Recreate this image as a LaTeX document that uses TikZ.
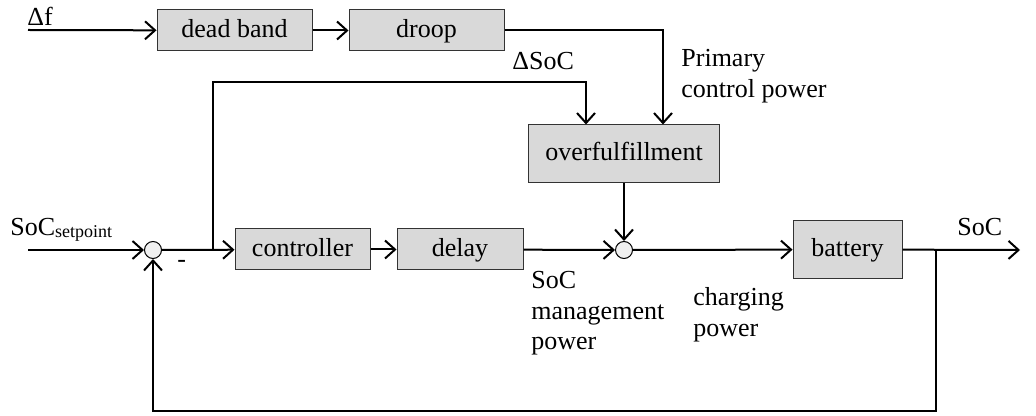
\documentclass[tikz,border=0pt]{standalone}
\usepackage{fontspec}
\setmainfont{Liberation Serif}
\usetikzlibrary{arrows.meta,positioning,calc}
\tikzset{block/.style={draw=black!80, line width=0.5pt, fill=gray!30, minimum height=20.5pt, inner sep=0pt, text height=9.5pt, text depth=2.5pt, font=\fontsize{13}{15.3}\selectfont}}
\tikzset{sumpt/.style={circle, draw, line width=0.5pt, fill=gray!12, minimum size=8.5pt, inner sep=0pt}}
\tikzset{sig/.style={line width=1pt, -{Straight Barb[length=5pt,width=9pt]}}}
\tikzset{lbl/.style={inner sep=0pt, align=left, font=\fontsize{13}{15.3}\selectfont}}

\begin{document}
\begin{tikzpicture}[x=0.5pt, y=-0.5pt]
			\useasboundingbox (0,0) rectangle (1036,416);

			% blocks
			\node[block, minimum width=77.5pt] (deadband) at (234.5,30.5) {dead band};
			\node[block, minimum width=77.5pt] (droop) at (426.5,30.5) {droop};
			\node[block, minimum width=95.5pt, minimum height=29pt] (overful) at (624,154) {overfulfillment};
			\node[block, minimum width=67.5pt] (controller) at (302.5,249.5) {controller};
			\node[block, minimum width=63pt] (delay) at (460,249.5) {delay};
			\node[block, minimum width=54.5pt, minimum height=28.5pt] (battery) at (847.5,249.5) {battery};
			\node[sumpt] (sum1) at (153,250) {};
			\node[sumpt] (sum2) at (624,250) {};

			\coordinate (fin) at (28,30);
			\coordinate (socin) at (28,250);
			\coordinate (socout) at (1020,250);
			\coordinate (tap) at (213,250);
			\coordinate (fb) at (936,250);

			% signal paths
			\draw[sig] (fin) -- (deadband);
			\draw[sig] (deadband) -- (droop);
			\draw[sig] (droop.east) -| ($(overful.north)+(39,0)$);
			\draw[sig] (tap) -- ++(0,-168) -| ($(overful.north)+(-38,0)$);
			\draw[sig] (socin) -- (sum1);
			\draw[sig] (sum1) -- (controller);
			\draw[sig] (controller) -- (delay);
			\draw[sig] (delay) -- (sum2);
			\draw[sig] (overful) -- (sum2);
			\draw[sig] (sum2) -- (battery);
			\draw[sig] (battery) -- (socout);
			\draw[sig] (fb) -- ++(0,161) -| (sum1);

			% labels
			\node[lbl, anchor=base west] (df) at (27,26) {Δf};
			\node[lbl, anchor=base west] (socsp) at (10,236) {SoC\raisebox{-1pt}{\fontsize{9}{9}\selectfont setpoint}};
			\node[lbl, anchor=base west] (minus) at (177,268) {-};
			\node[lbl, anchor=base west] (dsoc) at (512,70) {ΔSoC};
			\node[lbl, anchor=north west] (pcp) at (681,49) {Primary\\control power};
			\node[lbl, anchor=north west] (socmp) at (531,271) {SoC\\management\\power};
			\node[lbl, anchor=north west] (chp) at (693,287) {charging\\power};
			\node[lbl, anchor=base west] (socl) at (957,235) {SoC};
\end{tikzpicture}
\end{document}
